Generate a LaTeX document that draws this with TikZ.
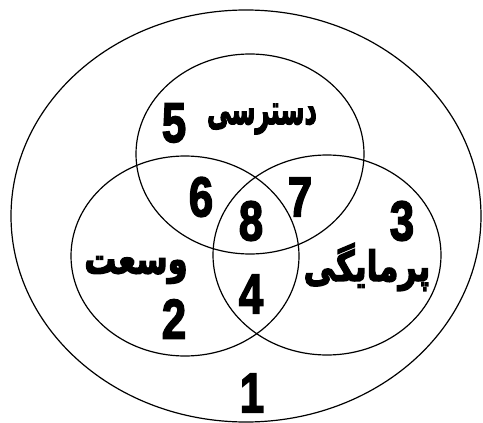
\documentclass[tikz,border=0pt]{standalone}
\usepackage{fontspec}
\setmainfont{Liberation Sans}
\newfontfamily\farsifont[Script=Arabic, FakeBold=3.5]{DejaVu Sans Bold}
\newfontfamily\numfont[FakeBold=3]{Liberation Sans Bold}
\TeXXeTstate=1
\begin{document}
\begin{tikzpicture}[x=1pt, y=-1pt,
        set/.style={draw, line width=1.2pt},
        num/.style={font=\numfont\fontsize{56}{56}\selectfont, xscale=0.78, inner sep=0pt},
        word/.style={font=\farsifont\fontsize{32}{40}\selectfont, yscale=1.3, inner sep=0pt}]
        \useasboundingbox (0,0) rectangle (483,423);

        % Outer set and the three circles
        \draw[set] (246,216) ellipse (235 and 206);
        \draw[set] (250,154) ellipse (114 and 100);
        \draw[set] (185,256) ellipse (114 and 100);
        \draw[set] (327,255) ellipse (114 and 100);

        % Labels
        \node[word, xscale=0.76] (access) at (262,119) {\beginR دسترسی\endR};
        \node[word] (scope) at (136,270) {\beginR وسعت\endR};
        \node[word] (rich) at (367,267) {\beginR پرمایگی\endR};

        % Region numbers
        \node[num] (n1) at (252,393) {1};
        \node[num] (n2) at (174,319) {2};
        \node[num] (n3) at (402,221) {3};
        \node[num] (n4) at (251,294) {4};
        \node[num] (n5) at (174,123) {5};
        \node[num] (n6) at (201,197) {6};
        \node[num] (n7) at (300,197) {7};
        \node[num] (n8) at (251,221) {8};
    \end{tikzpicture}
\end{document}
